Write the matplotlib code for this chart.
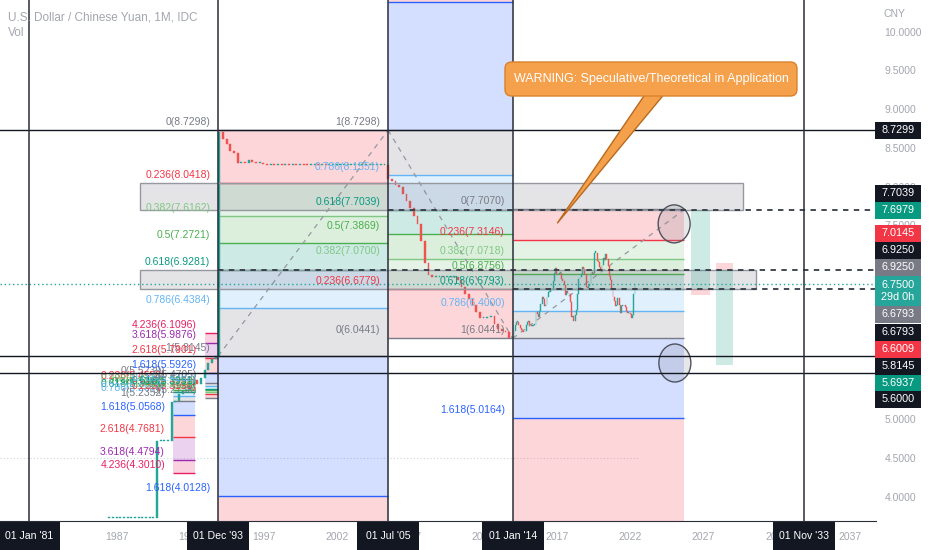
import numpy as np
import matplotlib.pyplot as plt
from matplotlib.patches import Rectangle, Ellipse, Polygon, FancyBboxPatch

plt.rcParams['font.family'] = ['Liberation Sans', 'DejaVu Sans']

#%% price history, USD/CNY closes
q_start = 1986.5   # quarterly closes 1986 Q3 .. 2013 Q4
q_closes = [3.72, 3.72,
            3.72, 3.72, 3.72, 3.72,  3.72, 3.72, 3.72, 3.72,
            3.72, 3.72, 3.72, 4.72,  4.72, 4.72, 4.72, 5.22,
            5.23, 5.32, 5.36, 5.38,  5.46, 5.50, 5.45, 5.53,
            5.64, 5.72, 5.78, 5.81,  8.70, 8.62, 8.55, 8.46,
            8.43, 8.30, 8.32, 8.31,  8.34, 8.32, 8.30, 8.30,
            8.29, 8.28, 8.28, 8.277, 8.28, 8.279, 8.28, 8.278,
            8.279, 8.278, 8.28, 8.279, 8.278, 8.279, 8.28, 8.277,
            8.278, 8.277, 8.277, 8.277, 8.277, 8.277, 8.277, 8.277,
            8.277, 8.277, 8.277, 8.277, 8.277, 8.277, 8.277, 8.277,
            8.277, 8.277, 8.10, 8.07,  8.02, 8.00, 7.91, 7.81,
            7.73, 7.62, 7.52, 7.30,  7.01, 6.86, 6.83, 6.83,
            6.84, 6.83, 6.83, 6.83,  6.83, 6.79, 6.70, 6.62,
            6.55, 6.47, 6.38, 6.30,  6.30, 6.32, 6.33, 6.23,
            6.17, 6.14, 6.12, 6.05]
m_start = 2014.0   # monthly closes Jan 2014 .. May 2022
m_closes = [6.06, 6.14, 6.21, 6.25, 6.25, 6.21, 6.18, 6.15, 6.14, 6.12, 6.14, 6.21,
            6.25, 6.27, 6.21, 6.20, 6.20, 6.21, 6.21, 6.38, 6.36, 6.32, 6.40, 6.49,
            6.58, 6.55, 6.46, 6.48, 6.58, 6.64, 6.64, 6.68, 6.67, 6.78, 6.89, 6.95,
            6.88, 6.87, 6.89, 6.89, 6.81, 6.78, 6.73, 6.60, 6.65, 6.63, 6.61, 6.51,
            6.32, 6.33, 6.27, 6.34, 6.41, 6.62, 6.81, 6.84, 6.87, 6.96, 6.94, 6.87,
            6.70, 6.69, 6.72, 6.74, 6.90, 6.87, 6.89, 7.15, 7.15, 7.04, 7.03, 6.96,
            6.93, 6.99, 7.08, 7.06, 7.13, 7.07, 6.98, 6.85, 6.79, 6.69, 6.58, 6.53,
            6.46, 6.47, 6.56, 6.47, 6.37, 6.46, 6.46, 6.47, 6.45, 6.40, 6.37, 6.37,
            6.36, 6.31, 6.34, 6.61, 6.75]

#%% fibonacci tools
fib_levels = [0, 0.236, 0.382, 0.5, 0.618, 0.786, 1, 1.618, 2.618, 3.618, 4.236]
fib_colors = ['#787b86', '#f23645', '#81c784', '#4caf50', '#089981', '#64b5f6',
              '#787b86', '#2962ff', '#f23645', '#9c27b0', '#e91e63']
fib_x0 = [1993.917, 2005.5, 2014.0, 1990.84, 1993.0]
fib_x1 = [2005.5, 2014.0, 2025.7, 1992.34, 1993.917]
fib_p0 = [8.7298, 6.0441, 7.7070, 5.5239, 5.2730]
fib_p1 = [5.8145, 8.7298, 6.0441, 5.2352, 5.4705]
fib_nlev = [9, 9, 9, 11, 11]
fib_trend = [True, True, True, False, False]

# rectangles, positions, ellipses, rays
box_x0 = [1988.6, 1988.6]
box_x1 = [2029.7, 2030.6]
box_top = [8.0418, 6.9250]
box_bot = [7.7039, 6.6793]

pos_x0 = [2026.15, 2027.85]
pos_x1 = [2027.45, 2029.0]
pos_entry = [6.6793, 6.9250]
pos_target = [7.6979, 5.6937]
pos_stop = [6.6009, 7.0145]

ell_x = [2025.0, 2025.05]
ell_y = [7.52, 5.725]

ray_y = [7.6979, 6.9250, 6.6793]
ray_x0 = [2005.5, 1993.917, 2014.0]
last_price = 6.75

hline_y = [8.7299, 5.8145, 5.6000]
vline_x = [1981.0, 1993.917, 2005.5, 2014.0, 2033.833]
vline_txt = ["01 Jan '81", "01 Dec '93", "01 Jul '05", "01 Jan '14", "01 Nov '33"]

axis_vals = [8.7299, 7.7039, 7.6979, 7.0145, 6.9250, 6.9250, 6.7500,
             6.6793, 6.6793, 6.6009, 5.8145, 5.6937, 5.6000]
axis_cols = ['#131722', '#131722', '#089981', '#f23645', '#131722', '#787b86',
             '#26a69a', '#787b86', '#131722', '#f23645', '#131722', '#089981',
             '#131722']
axis_ypix = [130, 193, 210, 233, 250, 267, 291, 314, 332, 349, 366, 383, 399]

#%% figure
W, H = 932, 550
fig = plt.figure(figsize=(W / 100, H / 100), dpi=100)
ax = fig.add_axes([0, 29 / H, 876 / W, 521 / H])
ax.set_xlim(1979.045, 2038.76)
ax.set_ylim(3.6865, 10.409)
ymin, ymax = ax.get_ylim()
yr_px = 1 / 14.67     # years per pixel
pr_px = 1 / 77.5      # price per pixel

# fib bands, lines, labels
for k in range(len(fib_x0)):
    x0, x1, p0, p1 = fib_x0[k], fib_x1[k], fib_p0[k], fib_p1[k]
    lev = fib_levels[:fib_nlev[k]]
    prices = [p0 + (p1 - p0) * l for l in lev]
    for i in range(1, len(lev)):
        lo, hi = sorted([prices[i - 1], prices[i]])
        ax.add_patch(Rectangle((x0, lo), x1 - x0, hi - lo, fc=fib_colors[i],
                               alpha=0.2, lw=0, zorder=1))
    for i, l in enumerate(lev):
        ax.hlines(prices[i], x0, x1, color=fib_colors[i], lw=1, zorder=2)
        if ymin < prices[i] < ymax - 0.2:
            ax.text(x0 - 8 * yr_px, prices[i] + 3 * pr_px, '%g(%.4f)' % (l, prices[i]),
                    color=fib_colors[i], fontsize=7.5, ha='right', va='bottom',
                    zorder=6)
    if fib_trend[k]:
        ax.plot([x0, x1], [p1, p0], color='#9598a1', lw=0.9, ls=(0, (4, 4)),
                zorder=3)

# candles
dates = np.concatenate([q_start + 0.25 * np.arange(len(q_closes)),
                        m_start + np.arange(len(m_closes)) / 12.0])
widths = np.concatenate([np.full(len(q_closes), 0.25 * 0.5),
                         np.full(len(m_closes), 0.7 / 12)])
closes = np.array(q_closes + m_closes)
opens = np.concatenate([[closes[0]], closes[:-1]])
up = closes >= opens
cols = np.where(up, '#26a69a', '#ef5350')
bottoms = np.minimum(opens, closes)
heights = np.maximum(np.abs(closes - opens), 0.014)
ax.bar(dates, heights, bottom=bottoms, width=widths, color=cols,
       edgecolor=cols, lw=0.3, align='center', zorder=4)

# gray boxes
for i in range(len(box_x0)):
    ax.add_patch(Rectangle((box_x0[i], box_bot[i]), box_x1[i] - box_x0[i],
                           box_top[i] - box_bot[i], fc='#787b86', alpha=0.2,
                           lw=0, zorder=5))
    ax.add_patch(Rectangle((box_x0[i], box_bot[i]), box_x1[i] - box_x0[i],
                           box_top[i] - box_bot[i], fc='none', ec='#9598a1',
                           lw=1, zorder=5))

# long / short positions
for i in range(len(pos_x0)):
    w = pos_x1[i] - pos_x0[i]
    lo, hi = sorted([pos_entry[i], pos_target[i]])
    ax.add_patch(Rectangle((pos_x0[i], lo), w, hi - lo, fc='#089981',
                           alpha=0.2, lw=0, zorder=5))
    lo, hi = sorted([pos_entry[i], pos_stop[i]])
    ax.add_patch(Rectangle((pos_x0[i], lo), w, hi - lo, fc='#f23645',
                           alpha=0.2, lw=0, zorder=5))

# circles
for i in range(len(ell_x)):
    ax.add_patch(Ellipse((ell_x[i], ell_y[i]), 32 * yr_px, 38 * pr_px,
                         fc='#787b86', alpha=0.18, lw=0, zorder=6))
    ax.add_patch(Ellipse((ell_x[i], ell_y[i]), 32 * yr_px, 38 * pr_px,
                         fc='none', ec='#50535e', lw=1, zorder=6))

# dashed rays and last price line
xl, xr = ax.get_xlim()
for i in range(len(ray_y)):
    ax.hlines(ray_y[i], ray_x0[i], xr, color='#363a45', lw=1.3,
              linestyles=(0, (3, 3)), zorder=7)
ax.hlines(last_price, xl, xr, color='#26a69a', lw=1,
          linestyles=(0, (1, 2)), zorder=7)
ax.hlines(4.5, xl, 2022.7, color='#d1d4dc', lw=0.8,
          linestyles=(0, (1, 2)), zorder=0)

# black crosshair lines
for y in hline_y:
    ax.axhline(y, color='#131722', lw=1, zorder=8)
for x in vline_x:
    ax.axvline(x, color='#2a2e39', lw=1.1, zorder=8)

# callout
cx0, cy0 = 1987 + (505 - 116.7) * yr_px, 10 - (96 - 31.7) * pr_px
cw, ch = 292 * yr_px, 34 * pr_px
ax.add_patch(Polygon([(1987 + (645 - 116.7) * yr_px, cy0 + 0.02),
                      (1987 + (664 - 116.7) * yr_px, cy0 + 0.02),
                      (2017.03, 7.528)], closed=True, fc='#f5a04b',
                     ec='#b86a1e', lw=1, zorder=9))
ax.add_patch(FancyBboxPatch((cx0, cy0), cw, ch,
                            boxstyle='round,pad=0,rounding_size=0.45',
                            mutation_aspect=pr_px / yr_px, fc='#f5a04b',
                            ec='#d9822b', lw=1, zorder=10))
ax.text(cx0 + cw / 2, cy0 + ch / 2, 'WARNING: Speculative/Theoretical in Application',
        color='white', fontsize=9, ha='center', va='center', zorder=11)

# axes styling
for s in ['top', 'left', 'right']:
    ax.spines[s].set_visible(False)
ax.spines['bottom'].set_color('#2a2e39')
ax.yaxis.tick_right()
ax.set_yticks(np.arange(4.0, 10.01, 0.5))
ax.set_yticklabels(['%.4f' % v for v in np.arange(4.0, 10.01, 0.5)])
ax.tick_params(axis='y', length=0, pad=6, labelsize=7.5, labelcolor='#a3a6af')
ax.set_xticks(np.arange(1987, 2038, 5))
ax.set_xticklabels([str(y) for y in range(1987, 2038, 5)])
ax.tick_params(axis='x', length=0, pad=8, labelsize=7.5, labelcolor='#a3a6af')

fig.text(8 / W, 1 - 17 / H, 'U.S. Dollar / Chinese Yuan, 1M, IDC', color='#a3a6af',
         fontsize=8.5, va='center')
fig.text(8 / W, 1 - 33 / H, 'Vol', color='#a3a6af', fontsize=8.5, va='center')
fig.text(884 / W, 1 - 14 / H, 'CNY', color='#a3a6af', fontsize=7.5, va='center')

# price scale labels
for i in range(len(axis_vals)):
    hh = 31 if i == 6 else 17
    yc = axis_ypix[i]
    fig.patches.append(Rectangle((875 / W, 1 - (yc + hh / 2) / H), 46 / W, hh / H,
                                 transform=fig.transFigure, fc=axis_cols[i],
                                 lw=0, zorder=5))
    txt = '%.4f' % axis_vals[i]
    if i == 6:
        txt = txt + '\n29d 0h'
    fig.text(898 / W, 1 - yc / H, txt, color='white', fontsize=7.8,
             ha='center', va='center', linespacing=1.25, zorder=6)

# time scale labels
for i in range(len(vline_x)):
    xd = ax.transData.transform((vline_x[i], 5))[0]
    fig.patches.append(Rectangle(((xd - 31) / W, 0), 62 / W, 28 / H,
                                 transform=fig.transFigure, fc='#131722',
                                 lw=0, zorder=5))
    fig.text(xd / W, 14 / H, vline_txt[i], color='white', fontsize=7.6,
             ha='center', va='center', zorder=6)

plt.savefig('out.png', dpi=100)
